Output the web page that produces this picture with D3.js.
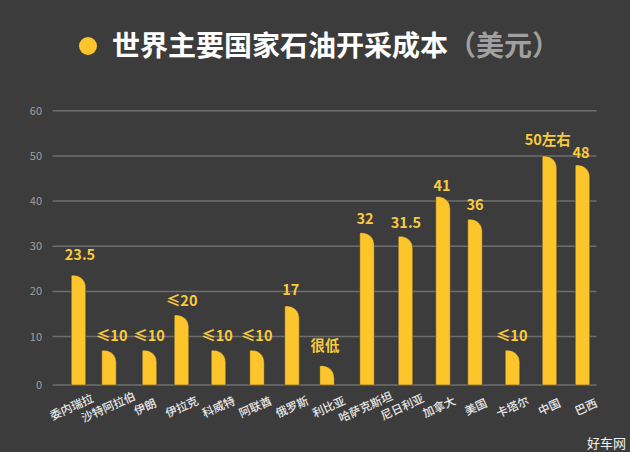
<!DOCTYPE html>
<html lang="zh-CN"><head><meta charset="utf-8">
<script src="https://cdn.jsdelivr.net/npm/d3@7"></script>
<style>html,body{margin:0;padding:0;background:#3c3c3c}svg{display:block}
text{font-family:"Noto Sans CJK SC","Noto Sans",sans-serif}</style></head>
<body><svg id="c" width="630" height="452"></svg>
<script>
const categories=["委内瑞拉","沙特阿拉伯","伊朗","伊拉克","科威特","阿联酋","俄罗斯","利比亚","哈萨克斯坦","尼日利亚","加拿大","美国","卡塔尔","中国","巴西"];
const values=[23.6,7.2,7.2,14.8,7.2,7.2,16.8,4,33,32.2,41,36,7.2,50,48];
const valueLabels=["23.5","≤10","≤10","≤20","≤10","≤10","17","很低","32","31.5","41","36","≤10","50左右","48"];
const yTicks=[0,10,20,30,40,50,60];
const titleMain="世界主要国家石油开采成本";
const titleUnit="（美元）";
const watermark="好车网";

// layout
const barShift=[7,.75,4.5,-.25,0,1.75,0,-1.75,1.5,3.25,4,-.75,0,.25,-3.5];
const labelShift=[1.5,2.7,-.5,.2,-1.5,-.3,-1.3,-2,-2,.5,-1,0,-.8,-1.8,-1.5];
const labelGap=[20,14,14,14,14,14,16,20,14,13,11,14.5,14,16,12];
const barW=14.5;
const svg=d3.select("#c");
svg.append("rect").attr("width",630).attr("height",452).attr("fill","#3c3c3c");
const x=d3.scalePoint().domain(categories).range([71.5,586]);
const y=d3.scaleLinear().domain([0,10,60]).range([385,336.6,110.7]);

svg.append("circle").attr("cx",88).attr("cy",46).attr("r",9).attr("fill","#fdc52c");
const t=svg.append("text").attr("x",112).attr("y",56).attr("font-size",28).attr("font-weight",700);
t.append("tspan").attr("fill","#fff").text(titleMain);
t.append("tspan").attr("fill","#a0a0a0").text(titleUnit);

const grid=svg.append("g");
grid.selectAll("line").data(yTicks).join("line")
 .attr("x1",52.5).attr("x2",596.5).attr("y1",d=>y(d)).attr("y2",d=>y(d))
 .attr("stroke","#6e6e6e").attr("stroke-width",1.5);
grid.selectAll("text").data(yTicks).join("text")
 .attr("x",42).attr("y",d=>y(d)+4).attr("text-anchor","end")
 .attr("font-size",11).attr("fill","#a0a0a0").text(d=>d);

const barPath=(d,i)=>{
  const c=x(categories[i])+barShift[i], l=c-barW/2, r=c+barW/2, t=y(d), b=y(0);
  const rad=Math.min(12,b-t);
  return `M${l},${b}V${t+1}Q${l},${t} ${l+1},${t}H${r-rad}A${rad},${rad} 0 0 1 ${r},${t+rad}V${b}Z`;
};
svg.append("g").selectAll("path").data(values).join("path")
 .attr("d",barPath).attr("fill","#fdc52c").attr("stroke","#2e2e2e").attr("stroke-opacity",.55).attr("stroke-width",.8);

svg.append("g").selectAll("text").data(valueLabels).join("text")
 .attr("x",(d,i)=>x(categories[i])+barShift[i]+labelShift[i])
 .attr("y",(d,i)=>y(values[i])-labelGap[i]+5)
 .attr("text-anchor","middle").attr("font-size",14.5).attr("font-weight",700)
 .attr("fill","#f8cb3c").text(d=>d);

svg.append("g").selectAll("text").data(categories).join("text")
 .attr("transform",d=>`translate(${x(d)},407) rotate(-24)`)
 .attr("text-anchor","middle").attr("dy","0.36em")
 .attr("font-size",11.5).attr("font-weight",500).attr("fill","#e6e6e6").text(d=>d);

svg.append("text").attr("x",626).attr("y",447.5).attr("text-anchor","end")
 .attr("font-size",13).attr("fill","#f2f2f2").text(watermark);
</script></body></html>
